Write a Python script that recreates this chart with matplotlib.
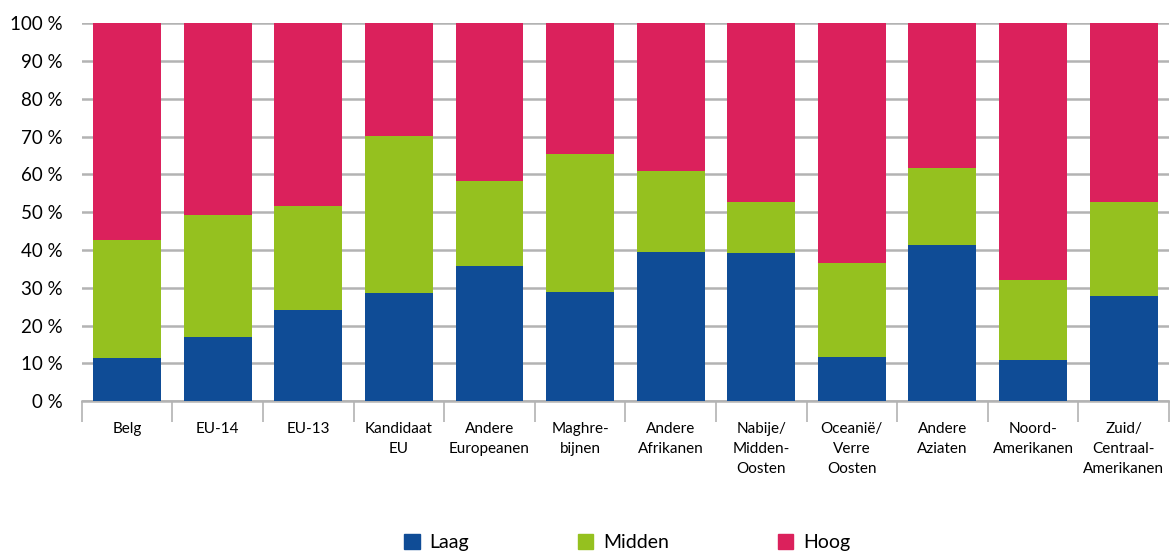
import numpy as np
import matplotlib.pyplot as plt
from matplotlib.patches import Patch
from matplotlib.ticker import FixedLocator

plt.rcParams['font.family'] = ['Lato', 'DejaVu Sans']

categories = ["Belg", "EU-14", "EU-13", "Kandidaat\nEU", "Andere\nEuropeanen",
              "Maghre-\nbijnen", "Andere\nAfrikanen", "Nabije/\nMidden-\nOosten",
              "Oceanië/\nVerre\nOosten", "Andere\nAziaten", "Noord-\nAmerikanen",
              "Zuid/\nCentraal-\nAmerikanen"]

# cumulative shares (%)
laag = [11.4, 16.9, 24.1, 28.6, 35.8, 28.8, 39.4, 39.2, 11.6, 41.3, 10.8, 27.8]
laag_midden = [42.6, 49.2, 51.6, 70.1, 58.2, 65.3, 60.8, 52.6, 36.5, 61.6, 32.0, 52.6]

laag = np.array(laag)
midden = np.array(laag_midden) - laag
hoog = 100 - np.array(laag_midden)

c_laag = "#0f4c96"
c_midden = "#95c11f"
c_hoog = "#db215c"

fig = plt.figure(figsize=(11.7, 5.51), dpi=100)
ax = fig.add_axes([0.070, 0.272, 0.929, 0.686])

x = np.arange(len(categories))
w = 0.75
ax.bar(x, laag, w, color=c_laag, zorder=3)
ax.bar(x, midden, w, bottom=laag, color=c_midden, zorder=3)
ax.bar(x, hoog, w, bottom=laag + midden, color=c_hoog, zorder=3)

ax.set_xlim(-0.5, len(categories) - 0.5)
ax.set_ylim(0, 100)
ax.set_yticks(np.arange(0, 101, 10))
ax.set_yticklabels([f"{v} %" for v in range(0, 101, 10)], fontsize=13.5)
ax.yaxis.grid(True, color="#b3b3b3", linewidth=1.8, zorder=0)
ax.set_axisbelow(True)
ax.tick_params(axis="y", length=0, pad=14)

ax.set_xticks(x)
ax.set_xticklabels(categories, fontsize=11, linespacing=1.55)
ax.tick_params(axis="x", which="major", length=0, pad=15)
ax.xaxis.set_minor_locator(FixedLocator(np.arange(-0.5, len(categories), 1.0)))
ax.tick_params(axis="x", which="minor", length=15, width=1.2, color="#b3b3b3")

for s in ["top", "right", "left"]:
    ax.spines[s].set_visible(False)
ax.spines["bottom"].set_color("#b3b3b3")
ax.spines["bottom"].set_linewidth(1.8)

handles = [Patch(color=c_laag, label="Laag"),
           Patch(color=c_midden, label="Midden"),
           Patch(color=c_hoog, label="Hoog")]
fig.legend(handles=handles, loc="center", bbox_to_anchor=(0.536, 0.015), ncol=3,
           frameon=False, fontsize=14, handlelength=0.8, handleheight=0.8,
           handletextpad=0.5, columnspacing=5.6)

fig.savefig("out.png", dpi=100)
